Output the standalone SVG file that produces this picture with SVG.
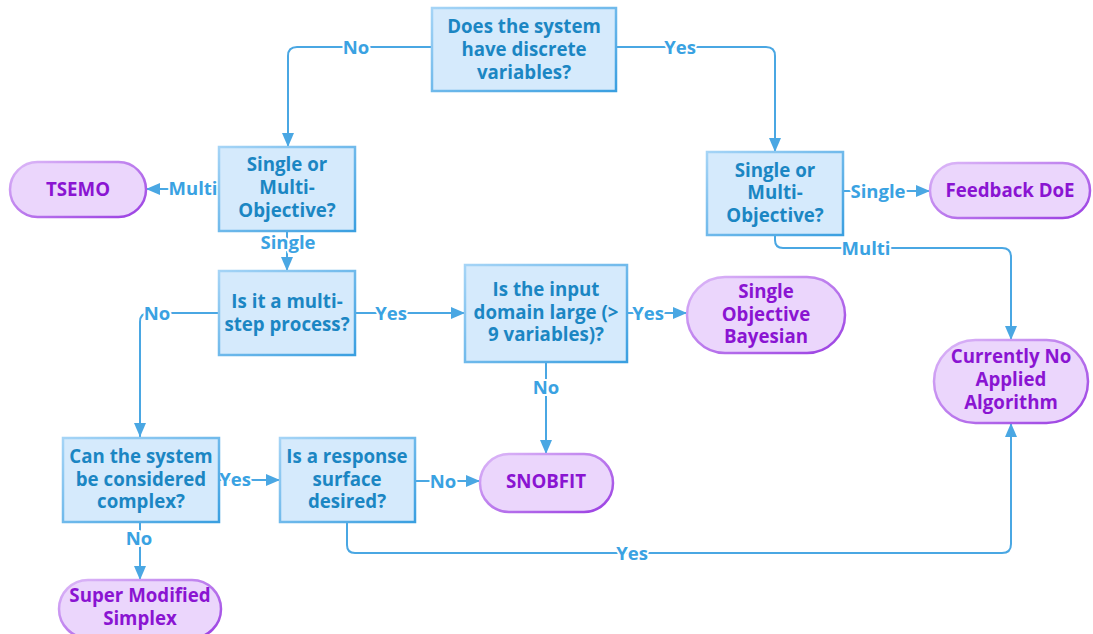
<svg xmlns="http://www.w3.org/2000/svg" width="1093" height="634" viewBox="0 0 1093 634">
  <defs>
    <linearGradient id="boxStroke" x1="0" y1="0" x2="1" y2="1">
      <stop offset="0" stop-color="#a5d4f6"/>
      <stop offset="1" stop-color="#3a9fe0"/>
    </linearGradient>
    <linearGradient id="pillStroke" x1="0" y1="0" x2="1" y2="1">
      <stop offset="0" stop-color="#ddbaf8"/>
      <stop offset="1" stop-color="#9a3de2"/>
    </linearGradient>
    <marker id="arrow" viewBox="0 0 14 12" refX="14" refY="6" markerWidth="14" markerHeight="12" markerUnits="userSpaceOnUse" orient="auto">
      <path d="M0,0 L14,6 L0,12 z" fill="#4aa7e3"/>
    </marker>
    <style>
      .box { fill: #d5eafc; stroke: url(#boxStroke); stroke-width: 2.5; }
      .pill { fill: #ebd6fc; stroke: url(#pillStroke); stroke-width: 2.5; }
      .bt { font-family: "Open Sans", "Liberation Sans", sans-serif; font-weight: 700; font-size: 18.7px; fill: #1b86c3; text-anchor: middle; }
      .pt { font-family: "Open Sans", "Liberation Sans", sans-serif; font-weight: 700; font-size: 18.7px; fill: #8a14d2; text-anchor: middle; }
      .edge { fill: none; stroke: #4aa7e3; stroke-width: 2; }
      .lbl { font-family: "Open Sans", "Liberation Sans", sans-serif; font-weight: 700; font-size: 18.5px; fill: #3aa2e2; text-anchor: middle; stroke: #ffffff; stroke-width: 4; paint-order: stroke; stroke-linejoin: round; }
    </style>
  </defs>

  <rect width="1093" height="634" fill="#ffffff"/>

  <!-- connectors -->
  <g id="connectors">
    <path class="edge" d="M432,47 H297 Q288,47 288,56 V147" marker-end="url(#arrow)"/>
    <path class="edge" d="M616,47 H766 Q775,47 775,56 V152" marker-end="url(#arrow)"/>
    <path class="edge" d="M219,189 H146" marker-end="url(#arrow)"/>
    <path class="edge" d="M287,231 V271" marker-end="url(#arrow)"/>
    <path class="edge" d="M843,191 H930" marker-end="url(#arrow)"/>
    <path class="edge" d="M775,235 V240 Q775,248 783,248 H1002 Q1011,248 1011,257 V340" marker-end="url(#arrow)"/>
    <path class="edge" d="M219,313 H149 Q140,313 140,322 V437" marker-end="url(#arrow)"/>
    <path class="edge" d="M355,313 H465" marker-end="url(#arrow)"/>
    <path class="edge" d="M627,313 H687" marker-end="url(#arrow)"/>
    <path class="edge" d="M546,362 V454" marker-end="url(#arrow)"/>
    <path class="edge" d="M219,480 H280" marker-end="url(#arrow)"/>
    <path class="edge" d="M415,481 H480" marker-end="url(#arrow)"/>
    <path class="edge" d="M140,522 V580" marker-end="url(#arrow)"/>
    <path class="edge" d="M347,522 V545 Q347,553 355,553 H1002 Q1011,553 1011,544 V423" marker-end="url(#arrow)"/>

    <text class="lbl" x="356" y="54">No</text>
    <text class="lbl" x="680" y="54">Yes</text>
    <text class="lbl" x="193" y="195">Multi</text>
    <text class="lbl" x="288" y="249">Single</text>
    <text class="lbl" x="878" y="198">Single</text>
    <text class="lbl" x="866" y="255">Multi</text>
    <text class="lbl" x="157" y="320">No</text>
    <text class="lbl" x="391" y="320">Yes</text>
    <text class="lbl" x="648" y="320">Yes</text>
    <text class="lbl" x="546" y="394">No</text>
    <text class="lbl" x="235" y="486">Yes</text>
    <text class="lbl" x="443" y="488">No</text>
    <text class="lbl" x="139" y="545">No</text>
    <text class="lbl" x="632" y="560">Yes</text>
  </g>

  <!-- decision nodes -->
  <g id="discrete">
    <rect class="box" x="432" y="8" width="184" height="83"/>
    <text class="bt" x="524" y="33">Does the system</text>
    <text class="bt" x="524" y="56">have discrete</text>
    <text class="bt" x="524" y="79">variables?</text>
  </g>
  <g id="objective-left">
    <rect class="box" x="219" y="147" width="136" height="84"/>
    <text class="bt" x="287" y="171">Single or</text>
    <text class="bt" x="287" y="194">Multi-</text>
    <text class="bt" x="287" y="217">Objective?</text>
  </g>
  <g id="objective-right">
    <rect class="box" x="707" y="152" width="136" height="83"/>
    <text class="bt" x="775" y="177">Single or</text>
    <text class="bt" x="775" y="199">Multi-</text>
    <text class="bt" x="775" y="222">Objective?</text>
  </g>
  <g id="multistep">
    <rect class="box" x="219" y="271" width="136" height="84"/>
    <text class="bt" x="287" y="308">Is it a multi-</text>
    <text class="bt" x="287" y="331">step process?</text>
  </g>
  <g id="domain">
    <rect class="box" x="465" y="265" width="162" height="97"/>
    <text class="bt" x="546" y="296">Is the input</text>
    <text class="bt" x="546" y="319">domain large (&gt;</text>
    <text class="bt" x="546" y="341">9 variables)?</text>
  </g>
  <g id="complex">
    <rect class="box" x="63" y="438" width="156" height="84"/>
    <text class="bt" x="141" y="463">Can the system</text>
    <text class="bt" x="141" y="486">be considered</text>
    <text class="bt" x="141" y="508">complex?</text>
  </g>
  <g id="surface">
    <rect class="box" x="280" y="438" width="135" height="84"/>
    <text class="bt" x="347" y="463">Is a response</text>
    <text class="bt" x="347" y="486">surface</text>
    <text class="bt" x="347" y="508">desired?</text>
  </g>

  <!-- algorithm nodes -->
  <g id="tsemo">
    <rect class="pill" x="10" y="162" width="136" height="55" rx="27.5"/>
    <text class="pt" x="78" y="196">TSEMO</text>
  </g>
  <g id="feedback-doe">
    <rect class="pill" x="930" y="163" width="160" height="55" rx="27.5"/>
    <text class="pt" x="1010" y="197">Feedback DoE</text>
  </g>
  <g id="bayesian">
    <rect class="pill" x="687" y="277" width="158" height="76" rx="38"/>
    <text class="pt" x="766" y="298">Single</text>
    <text class="pt" x="766" y="321">Objective</text>
    <text class="pt" x="766" y="343">Bayesian</text>
  </g>
  <g id="snobfit">
    <rect class="pill" x="480" y="454" width="133" height="58" rx="29"/>
    <text class="pt" x="546" y="488">SNOBFIT</text>
  </g>
  <g id="no-algorithm">
    <rect class="pill" x="934" y="340" width="154" height="83" rx="41.5"/>
    <text class="pt" x="1011" y="363">Currently No</text>
    <text class="pt" x="1011" y="386">Applied</text>
    <text class="pt" x="1011" y="409">Algorithm</text>
  </g>
  <g id="simplex">
    <rect class="pill" x="59" y="580" width="162" height="58" rx="29"/>
    <text class="pt" x="140" y="602">Super Modified</text>
    <text class="pt" x="140" y="625">Simplex</text>
  </g>
</svg>
